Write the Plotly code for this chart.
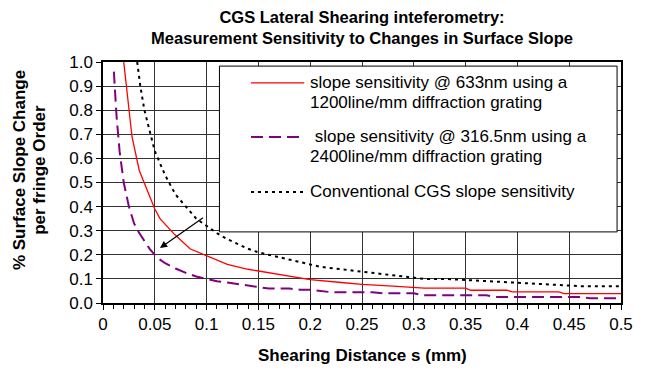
import plotly.graph_objects as go

# ---- data ----
s_red = [0.02, 0.025, 0.028, 0.035, 0.05, 0.055, 0.069, 0.084, 0.10, 0.12, 0.14, 0.16, 0.18, 0.20,
         0.23, 0.25, 0.28, 0.30, 0.31, 0.35, 0.355, 0.39, 0.395, 0.44, 0.445, 0.50]
y_red = [1.0, 0.80, 0.69, 0.55, 0.39, 0.35, 0.285, 0.225, 0.195, 0.16, 0.14, 0.125, 0.11, 0.097,
         0.085, 0.077, 0.07, 0.065, 0.062, 0.062, 0.053, 0.053, 0.046, 0.046, 0.039, 0.039]

s_purple = [0.0105, 0.013, 0.016, 0.02, 0.025, 0.03, 0.035, 0.04, 0.045, 0.05, 0.055, 0.06, 0.07,
            0.08, 0.09, 0.10, 0.11, 0.12, 0.13, 0.14, 0.15, 0.16, 0.18, 0.19, 0.20, 0.21, 0.22,
            0.23, 0.26, 0.27, 0.30, 0.31, 0.37, 0.38, 0.46, 0.47, 0.50]
y_purple = [0.96, 0.78, 0.63, 0.50, 0.40, 0.33, 0.29, 0.255, 0.225, 0.20, 0.18, 0.165, 0.143,
            0.125, 0.11, 0.10, 0.09, 0.085, 0.078, 0.072, 0.067, 0.06, 0.06, 0.055, 0.055, 0.05,
            0.045, 0.045, 0.045, 0.04, 0.04, 0.032, 0.032, 0.025, 0.025, 0.02, 0.02]

s_black = [0.033, 0.036, 0.04, 0.045, 0.05, 0.06, 0.07, 0.08, 0.09, 0.10, 0.11, 0.12, 0.13, 0.14,
           0.15, 0.17, 0.19, 0.21, 0.23, 0.25, 0.27, 0.29, 0.31, 0.33, 0.35, 0.37, 0.40, 0.43,
           0.46, 0.50]
y_black = [1.0, 0.9, 0.8, 0.71, 0.63, 0.53, 0.45, 0.40, 0.35, 0.32, 0.29, 0.265, 0.245, 0.225,
           0.21, 0.19, 0.17, 0.15, 0.14, 0.13, 0.12, 0.11, 0.10, 0.10, 0.095, 0.09, 0.085, 0.075,
           0.07, 0.07]

names = [
    ["slope sensitivity @ 633nm using a", "1200line/mm diffraction grating"],
    ["\u00a0slope sensitivity @ 316.5nm using a", "2400line/mm diffraction grating"],
    ["Conventional CGS slope sensitivity"],
]
x_ticks = [0, 0.05, 0.1, 0.15, 0.2, 0.25, 0.3, 0.35, 0.4, 0.45, 0.5]
y_ticks = [0.0, 0.1, 0.2, 0.3, 0.4, 0.5, 0.6, 0.7, 0.8, 0.9, 1.0]

FONT = "Liberation Sans, Arial, sans-serif"
RED, PURPLE, BLACK = "#FF0000", "#800080", "#000000"
styles = [dict(color=RED, width=1.3, dash="solid"),
          dict(color=PURPLE, width=2, dash="12px,6px"),
          dict(color=BLACK, width=2, dash="3px,4px")]

fig = go.Figure()
for (xs, ys, nm, st) in [(s_red, y_red, names[0], styles[0]),
                         (s_purple, y_purple, names[1], styles[1]),
                         (s_black, y_black, names[2], styles[2])]:
    fig.add_trace(go.Scatter(x=xs, y=ys, mode="lines", line=st,
                             name=" ".join(nm).strip(), showlegend=False,
                             hoverinfo="skip"))

# ---- manual legend (box, samples, text) ----
shapes = [dict(type="rect", xref="paper", yref="paper", x0=0.2248, x1=0.9924, y0=0.295, y1=0.983,
               line=dict(color="black", width=1), fillcolor="white", layer="above")]
sample_y = [0.913, 0.689, 0.461]
for sy, st in zip(sample_y, styles):
    shapes.append(dict(type="line", xref="paper", yref="paper", x0=0.2857, x1=0.3886, y0=sy, y1=sy,
                       line=st, layer="above"))

annotations = []
text_lines = [(names[0][0], 0.913), (names[0][1], 0.830),
              (names[1][0], 0.689), (names[1][1], 0.606),
              (names[2][0], 0.461)]
for t, ty in text_lines:
    annotations.append(dict(text=t, xref="paper", yref="paper", x=0.396, y=ty, xanchor="left",
                            yanchor="middle", showarrow=False,
                            font=dict(family=FONT, size=17, color="black")))

# arrow from legend toward the curves
annotations.append(dict(x=0.055, y=0.228, ax=0.098, ay=0.358, xref="x", yref="y", axref="x", ayref="y",
                        text="", showarrow=True, arrowhead=2, arrowsize=1.2, arrowwidth=1.2,
                        arrowcolor="black"))

# axis titles
annotations.append(dict(text="<b>Shearing Distance s (mm)</b>", xref="paper", yref="paper",
                        x=0.5, y=-0.216, xanchor="center", yanchor="middle", showarrow=False,
                        font=dict(family=FONT, size=17, color="black")))
annotations.append(dict(text="<b>% Surface Slope Change</b>", xref="paper", yref="paper",
                        x=(19 - 103) / 525, y=0.552, xanchor="center", yanchor="middle",
                        textangle=-90, showarrow=False,
                        font=dict(family=FONT, size=17, color="black")))
annotations.append(dict(text="<b>per fringe Order</b>", xref="paper", yref="paper",
                        x=(39 - 103) / 525, y=0.552, xanchor="center", yanchor="middle",
                        textangle=-90, showarrow=False,
                        font=dict(family=FONT, size=17, color="black")))

fig.update_layout(
    width=645, height=371,
    margin=dict(l=103, r=17, t=62, b=68),
    paper_bgcolor="white", plot_bgcolor="white",
    font=dict(family=FONT, size=17, color="black"),
    title=dict(text="<b>CGS Lateral Shearing inteferometry:<br>Measurement Sensitivity to Changes in Surface Slope</b>",
               x=0.5, xref="paper", xanchor="center", y=1 - 23 / 371, yref="container", yanchor="middle",
               font=dict(family=FONT, size=16.5, color="black")),
    shapes=shapes, annotations=annotations, showlegend=False,
)
fig.update_xaxes(range=[0, 0.5], tickvals=x_ticks, ticktext=[f"{v:g}" for v in x_ticks],
                 showgrid=True, gridcolor="#333", gridwidth=1,
                 showline=True, linecolor="black", linewidth=1.5, mirror=True,
                 ticks="outside", ticklen=5, tickcolor="black",
                 minor=dict(dtick=0.01, tick0=0, ticks="outside", ticklen=4, tickcolor="black", showgrid=False),
                 zeroline=False, fixedrange=True)
fig.update_yaxes(range=[0, 1.0], tickvals=y_ticks, ticktext=[f"{v:.1f}" for v in y_ticks],
                 showgrid=True, gridcolor="#333", gridwidth=1,
                 showline=True, linecolor="black", linewidth=1.5, mirror=True,
                 ticks="outside", ticklen=5, tickcolor="black",
                 zeroline=False, fixedrange=True)

fig.write_html("out.html")
